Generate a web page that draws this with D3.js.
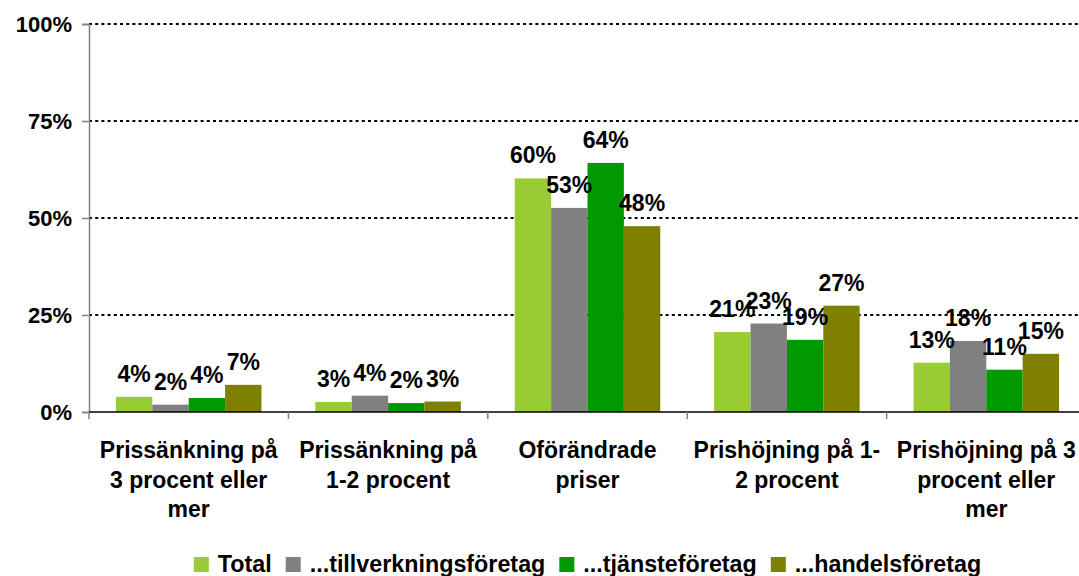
<!DOCTYPE html>
<html>
<head>
<meta charset="utf-8">
<script src="https://cdn.jsdelivr.net/npm/d3@7"></script>
<style>
  html, body { margin: 0; padding: 0; background: #fff; overflow: hidden; }
  svg { display: block; font-family: "Liberation Sans", Arial, sans-serif; font-weight: bold; }
</style>
</head>
<body>
<svg id="chart" width="1079" height="576"></svg>
<script>
// categories (line breaks as in the original chart)
const categories = [
    ["Prissänkning på", "3 procent eller", "mer"],
    ["Prissänkning på", "1-2 procent"],
    ["Oförändrade", "priser"],
    ["Prishöjning på 1-", "2 procent"],
    ["Prishöjning på 3", "procent eller", "mer"]
];
const seriesNames = ["Total", "...tillverkningsföretag", "...tjänsteföretag", "...handelsföretag"];
const seriesColors = ["#99cc33", "#808080", "#009900", "#808000"];

// values in percent
const total = [3.9, 2.6, 60.2, 20.6, 12.7];
const tillverkning = [1.9, 4.2, 52.6, 22.8, 18.3];
const tjanste = [3.6, 2.3, 64.2, 18.6, 10.9];
const handel = [7.0, 2.7, 47.9, 27.4, 15.0];

const yTicks = [0, 25, 50, 75, 100];

const series = [total, tillverkning, tjanste, handel];

const svg = d3.select("#chart");
const margin = { left: 89, top: 24, bottom: 412 };
const plotRight = 1086;

const x0 = d3.scaleBand()
    .domain(d3.range(categories.length))
    .range([margin.left, plotRight])
    .paddingInner(0).paddingOuter(0);

const x1 = d3.scaleBand()
    .domain(d3.range(series.length))
    .range([0, x0.bandwidth()])
    .paddingInner(0)
    .paddingOuter(0.74);

const y = d3.scaleLinear().domain([0, 100]).range([margin.bottom, margin.top]);

// gridlines (dotted)
svg.append("g")
    .selectAll("line")
    .data(yTicks.filter(d => d > 0))
    .enter().append("line")
    .attr("x1", margin.left).attr("x2", plotRight)
    .attr("y1", d => y(d)).attr("y2", d => y(d))
    .attr("stroke", "#000")
    .attr("stroke-width", 2)
    .attr("stroke-dasharray", "3,3.2");

// y axis
const yAxis = svg.append("g")
    .attr("transform", `translate(${margin.left},0)`)
    .call(d3.axisLeft(y).tickValues(yTicks).tickFormat(d => d + "%").tickSize(7).tickPadding(10));
yAxis.select(".domain").attr("stroke", "#808080").attr("stroke-width", 1.5);
yAxis.selectAll(".tick line").attr("stroke", "#808080").attr("stroke-width", 1.5);
yAxis.selectAll(".tick text")
    .attr("fill", "#000")
    .style("font-size", "22px")
    .style("font-family", "Liberation Sans, Arial, sans-serif")
    .style("font-weight", "bold")
    .attr("dy", "0.34em");

// bars
const groups = svg.append("g")
    .selectAll("g")
    .data(categories.map((c, i) => i))
    .enter().append("g")
    .attr("transform", i => `translate(${x0(i)},0)`);

groups.selectAll("rect")
    .data(i => series.map((s, k) => ({ k: k, v: s[i] })))
    .enter().append("rect")
    .attr("x", d => x1(d.k))
    .attr("width", x1.bandwidth())
    .attr("y", d => y(d.v))
    .attr("height", d => y(0) - y(d.v))
    .attr("fill", d => seriesColors[d.k]);

// x axis line and category ticks
const xAxis = svg.append("g");
xAxis.append("line")
    .attr("x1", margin.left).attr("x2", plotRight)
    .attr("y1", y(0)).attr("y2", y(0))
    .attr("stroke", "#000").attr("stroke-width", 1.5);
xAxis.selectAll("line.tick")
    .data(d3.range(categories.length + 1))
    .enter().append("line")
    .attr("class", "tick")
    .attr("x1", i => margin.left + i * x0.step())
    .attr("x2", i => margin.left + i * x0.step())
    .attr("y1", y(0)).attr("y2", y(0) + 7)
    .attr("stroke", "#808080").attr("stroke-width", 1.5);

// data labels
groups.selectAll("text")
    .data(i => series.map((s, k) => ({ k: k, v: s[i] })))
    .enter().append("text")
    .attr("x", d => x1(d.k) + x1.bandwidth() / 2)
    .attr("y", d => y(d.v) - 15)
    .attr("text-anchor", "middle")
    .style("font-size", "23px")
    .text(d => Math.round(d.v) + "%");

// category labels
svg.append("g")
    .selectAll("text")
    .data(categories)
    .enter().append("text")
    .attr("x", (d, i) => x0(i) + x0.bandwidth() / 2)
    .attr("y", 458)
    .attr("text-anchor", "middle")
    .style("font-size", "23px")
    .each(function(lines) {
        d3.select(this).selectAll("tspan")
            .data(lines)
            .enter().append("tspan")
            .attr("x", d3.select(this).attr("x"))
            .attr("dy", (l, j) => j === 0 ? 0 : 29.5)
            .text(l => l);
    });

// legend
const legend = svg.append("g");
const items = legend.selectAll("g")
    .data(seriesNames)
    .enter().append("g");
items.append("rect")
    .attr("width", 15).attr("height", 15)
    .attr("y", 557)
    .attr("fill", (d, i) => seriesColors[i]);
items.append("text")
    .attr("x", 24)
    .attr("y", 572)
    .style("font-size", "23.3px")
    .text(d => d);
let offs = [];
let cur = 0;
items.each(function() {
    offs.push(cur);
    cur += this.getBBox().width + 14;
});
cur -= 14;
const legendStart = (margin.left + plotRight) / 2 - cur / 2;
items.attr("transform", (d, i) => `translate(${legendStart + offs[i]},0)`);
</script>
</body>
</html>
